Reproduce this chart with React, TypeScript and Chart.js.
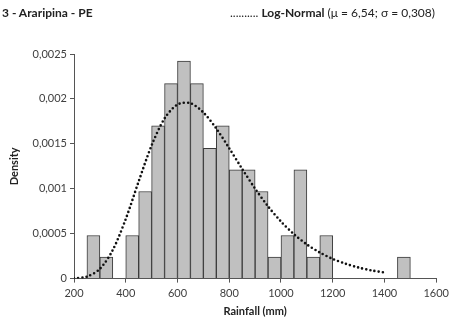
import React, { useEffect, useRef } from "react";
import { Chart, registerables } from "chart.js";

Chart.register(...registerables);

// Histogram bins (lower edges, width 50 mm) and densities
const binStarts = [250, 300, 350, 400, 450, 500, 550, 600, 650, 700, 750, 800, 850, 900, 950, 1000, 1050, 1100, 1150, 1200, 1250, 1300, 1350, 1400, 1450];
const densities = [0.00048, 0.00024, null, 0.00048, 0.00097, 0.0017, 0.00217, 0.00242, 0.00217, 0.00145, 0.0017, 0.00121, 0.00121, 0.00097, 0.00024, 0.00048, 0.00121, 0.00024, 0.00048, null, null, null, null, null, 0.00024];

// Log-Normal curve
const curveX = [200, 250, 300, 350, 400, 450, 500, 550, 600, 650, 700, 750, 800, 850, 900, 950, 1000, 1050, 1100, 1150, 1200, 1250, 1300, 1350, 1400];
const curveY = [0.000002, 0.000022, 0.000108, 0.000319, 0.000663, 0.001082, 0.001483, 0.001782, 0.001938, 0.001952, 0.001849, 0.00167, 0.00145, 0.001221, 0.001001, 0.000804, 0.000635, 0.000494, 0.00038, 0.00029, 0.000219, 0.000165, 0.000123, 0.000091, 0.000068];

const xTicks = [200, 400, 600, 800, 1000, 1200, 1400, 1600];
const yTicks = [0, 0.0005, 0.001, 0.0015, 0.002, 0.0025];
const yTickLabels = ["0", "0,0005", "0,001", "0,0015", "0,002", "0,0025"];

const FONT = "Lato, 'Open Sans', sans-serif";

export default function App() {
  const ref = useRef<HTMLCanvasElement | null>(null);
  useEffect(() => {
    document.body.style.margin = "0";
    const ctx = ref.current!;
    const chart = new Chart(ctx, {
      type: "bar",
      data: {
        datasets: [
          {
            type: "line",
            data: curveX.map((x, i) => ({ x, y: curveY[i] })),
            borderColor: "#111",
            borderWidth: 2.6,
            borderDash: [0, 4.2],
            borderCapStyle: "round",
            pointRadius: 0,
            tension: 0.3,
            fill: false,
            order: 0,
          } as any,
          {
            type: "bar",
            data: binStarts.map((b, i) => ({ x: b + 25, y: densities[i] })),
            backgroundColor: "#c0c0c0",
            borderColor: "#3a3a3a",
            borderWidth: 1,
            barPercentage: 1,
            categoryPercentage: 1,
            grouped: false,
            order: 1,
          } as any,
        ],
      },
      options: {
        animation: false,
        responsive: false,
        maintainAspectRatio: false,
        layout: { padding: { top: 54, right: 6, left: 4, bottom: 2 } },
        plugins: { legend: { display: false }, tooltip: { enabled: false }, title: { display: false } },
        scales: {
          x: {
            type: "linear",
            min: 200,
            max: 1600,
            offset: false,
            afterBuildTicks: (s: any) => { s.ticks = xTicks.map((v) => ({ value: v })); },
            ticks: { color: "#404040", font: { family: FONT, size: 11 }, padding: 4, maxRotation: 0, callback: (v: any) => String(v) },
            grid: { display: true, offset: false, drawOnChartArea: false, drawTicks: true, tickLength: 4, color: "#555" },
            border: { display: true, color: "#555" },
            title: { display: true, text: "Rainfall (mm)", color: "#222", font: { family: FONT, size: 11, weight: "bold" }, padding: { top: 1 } },
          },
          y: {
            type: "linear",
            min: 0,
            max: 0.0025,
            afterBuildTicks: (s: any) => { s.ticks = yTicks.map((v) => ({ value: v })); },
            afterFit: (s: any) => { s.width = 70; },
            ticks: {
              color: "#404040",
              font: { family: FONT, size: 11 },
              padding: 3,
              callback: (v: any) => yTickLabels[yTicks.findIndex((t) => Math.abs(t - v) < 1e-9)] ?? "",
            },
            grid: { display: true, drawOnChartArea: false, drawTicks: true, tickLength: 4, color: "#555" },
            border: { display: true, color: "#555" },
            title: { display: true, text: "Density", color: "#222", font: { family: FONT, size: 11, weight: "bold" }, padding: { bottom: 2 } },
          },
        },
      } as any,
    });
    return () => chart.destroy();
  }, []);
  return (
    <div style={{ position: "relative", width: 453, height: 324, fontFamily: FONT, color: "#222" }}>
      <canvas ref={ref} width={453} height={324} style={{ position: "absolute", left: 0, top: 0 }} />
      <div style={{ position: "absolute", left: 2, top: 5, fontSize: 12, fontWeight: "bold" }}>3 - Araripina - PE</div>
      <div style={{ position: "absolute", left: 230, top: 5, fontSize: 12, whiteSpace: "nowrap" }}>
        <span>..........</span> <b>Log-Normal</b> (μ = 6,54; σ = 0,308)
      </div>
    </div>
  );
}
